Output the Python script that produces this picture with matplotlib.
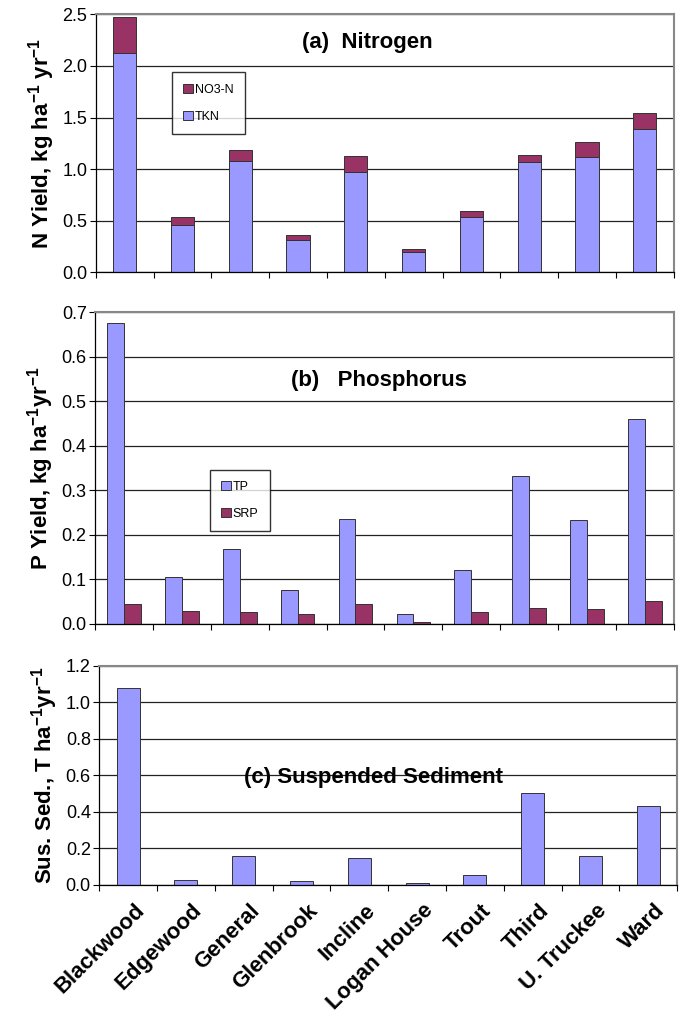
import numpy as np
import matplotlib.pyplot as plt

plt.rcParams['font.family'] = ['Liberation Sans', 'DejaVu Sans']
plt.rcParams['mathtext.fontset'] = 'custom'
plt.rcParams['mathtext.rm'] = 'Liberation Sans'
plt.rcParams['mathtext.bf'] = 'Liberation Sans:bold'

sites = ['Blackwood', 'Edgewood', 'General', 'Glenbrook', 'Incline',
         'Logan House', 'Trout', 'Third', 'U. Truckee', 'Ward']

# (a) nitrogen, kg/ha/yr
tkn = [2.13, 0.46, 1.08, 0.31, 0.97, 0.20, 0.54, 1.07, 1.12, 1.39]
no3 = [0.34, 0.08, 0.11, 0.05, 0.16, 0.03, 0.05, 0.07, 0.14, 0.15]

# (b) phosphorus, kg/ha/yr
tp = [0.676, 0.105, 0.167, 0.075, 0.235, 0.021, 0.121, 0.333, 0.232, 0.461]
srp = [0.045, 0.029, 0.026, 0.022, 0.043, 0.003, 0.027, 0.034, 0.032, 0.050]

# (c) suspended sediment, T/ha/yr
sed = [1.075, 0.025, 0.16, 0.018, 0.145, 0.01, 0.053, 0.50, 0.16, 0.43]

LIGHT = '#9999FF'
DARK = '#993366'
EDGE = '#333333'

fig = plt.figure(figsize=(6.84, 10.24), dpi=100)
ax_a = fig.add_axes([0.140, 0.734, 0.845, 0.252])
ax_b = fig.add_axes([0.139, 0.391, 0.846, 0.304])
ax_c = fig.add_axes([0.145, 0.136, 0.845, 0.214])

x = np.arange(len(sites))


def style(ax, ymax, step, fmt):
    ax.set_xlim(-0.5, len(sites) - 0.5)
    ax.set_ylim(0, ymax)
    ticks = np.arange(0, ymax + step / 2, step)
    ax.set_yticks(ticks)
    ax.set_yticklabels([fmt % t for t in ticks], fontsize=13)
    ax.set_xticks(np.arange(len(sites) + 1) - 0.5)
    ax.set_xticklabels([])
    ax.tick_params(axis='x', direction='out', length=4, width=0.8)
    ax.tick_params(axis='y', direction='out', length=4, width=0.8, pad=2)
    ax.yaxis.grid(True, color='#222222', lw=0.9)
    ax.set_axisbelow(True)
    for s in ['top', 'right']:
        ax.spines[s].set_color('#888888')
        ax.spines[s].set_linewidth(1.5)
    ax.spines['left'].set_linewidth(0.9)
    ax.spines['bottom'].set_linewidth(0.9)


leg_kw = dict(fontsize=9, frameon=True, fancybox=False, edgecolor='black',
              handlelength=0.8, handleheight=0.8, handletextpad=0.15,
              labelspacing=1.2, borderpad=0.9, borderaxespad=0)

# (a) stacked nitrogen bars
w = 0.4
ax_a.bar(x, tkn, w, color=LIGHT, edgecolor=EDGE, lw=0.7, label='TKN')
ax_a.bar(x, no3, w, bottom=tkn, color=DARK, edgecolor=EDGE, lw=0.7, label='NO3-N')
style(ax_a, 2.5, 0.5, '%.1f')
ax_a.set_ylabel('N Yield, kg ha$^{\\mathbf{-1}}$ yr$^{\\mathbf{-1}}$',
                fontsize=16, fontweight='bold', labelpad=4)
ax_a.text(0.47, 0.89, '(a)  Nitrogen', transform=ax_a.transAxes,
          ha='center', va='center', fontsize=16, fontweight='bold')
h, l = ax_a.get_legend_handles_labels()
ax_a.legend(h[::-1], l[::-1], loc='upper left', bbox_to_anchor=(0.132, 0.775),
            **leg_kw)

# (b) grouped phosphorus bars
bw = 0.29
ax_b.bar(x - bw / 2, tp, bw, color=LIGHT, edgecolor=EDGE, lw=0.7, label='TP')
ax_b.bar(x + bw / 2, srp, bw, color=DARK, edgecolor=EDGE, lw=0.7, label='SRP')
style(ax_b, 0.7, 0.1, '%.1f')
ax_b.set_ylabel('P Yield, kg ha$^{\\mathbf{-1}}$yr$^{\\mathbf{-1}}$',
                fontsize=16, fontweight='bold', labelpad=4)
ax_b.text(0.49, 0.78, '(b)   Phosphorus', transform=ax_b.transAxes,
          ha='center', va='center', fontsize=16, fontweight='bold')
ax_b.legend(loc='upper left', bbox_to_anchor=(0.198, 0.495), **leg_kw)

# (c) suspended sediment
ax_c.bar(x, sed, 0.4, color=LIGHT, edgecolor=EDGE, lw=0.7)
style(ax_c, 1.2, 0.2, '%.1f')
ax_c.set_ylabel('Sus. Sed., T ha$^{\\mathbf{-1}}$yr$^{\\mathbf{-1}}$',
                fontsize=16, fontweight='bold', labelpad=4)
ax_c.text(0.475, 0.49, '(c) Suspended Sediment', transform=ax_c.transAxes,
          ha='center', va='center', fontsize=16, fontweight='bold')
for i, s in enumerate(sites):
    ax_c.text(i + 0.1, -0.07, s, rotation=45, ha='right', va='top',
              rotation_mode='anchor', fontsize=16, fontweight='bold',
              transform=ax_c.get_xaxis_transform())

fig.savefig('out.png', dpi=100)
